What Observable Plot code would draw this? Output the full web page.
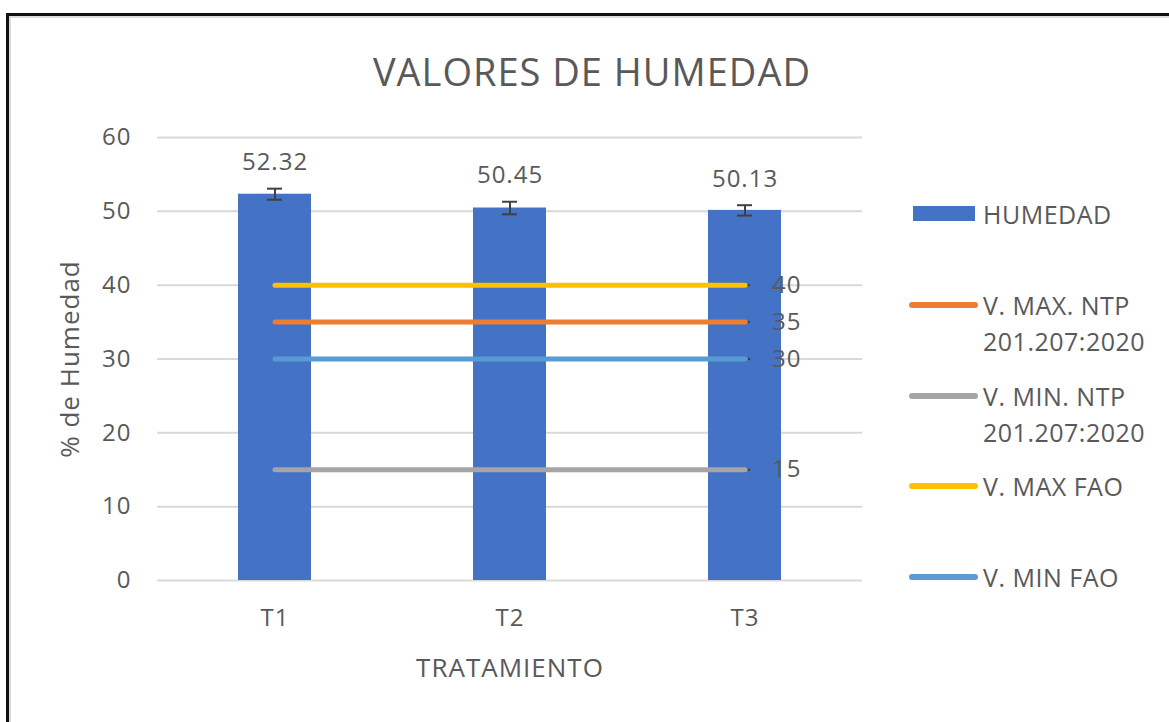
<!DOCTYPE html>
<html>
<head>
<meta charset="utf-8">
<script src="https://cdn.jsdelivr.net/npm/d3@7"></script>
<script src="https://cdn.jsdelivr.net/npm/@observablehq/plot@0.6"></script>
<style>
  html, body { margin: 0; padding: 0; background: #fff; }
  #wrap { position: relative; width: 1169px; height: 722px; overflow: hidden; background: #fff;
          font-family: "Open Sans", "Noto Sans", sans-serif; color: #595959; }
  #frame { position: absolute; left: 6px; top: 13px; width: 1300px; height: 900px;
           border: 3px solid #111; box-shadow: inset 2px 2px 0 #dcdcdc; box-sizing: border-box; }
  #chart { position: absolute; left: 0; top: 0; }
  #title { position: absolute; left: 0; width: 1184px; top: 46px; text-align: center;
           font-size: 38px; letter-spacing: 1px; line-height: 50px; color: #595959; }
  .leg { position: absolute; left: 905px; }
  .leg .sw { position: absolute; }
  .leg .tx { position: absolute; left: 78px; font-size: 25px; letter-spacing: 0.5px; line-height: 36px; width: 190px; white-space: pre-line; }
  #chart svg text { letter-spacing: 1px; }
</style>
</head>
<body>
<div id="wrap">
  <div id="frame"></div>
  <div id="chart"></div>
  <div id="title"></div>
</div>
<script>
// ---- data ----
const categories = ["T1", "T2", "T3"];
const humedad = [52.32, 50.45, 50.13];
const errores = [0.75, 0.85, 0.7];
const refNames = ["V. MAX. NTP\n201.207:2020", "V. MIN. NTP\n201.207:2020", "V. MAX FAO", "V. MIN FAO"];
const refValues = [35, 15, 40, 30];
const refColors = ["#ED7D31", "#A5A5A5", "#FFC000", "#5B9BD5"];
const barColor = "#4472C4";
const barName = "HUMEDAD";
const yTicks = [0, 10, 20, 30, 40, 50, 60];
const titleText = "VALORES DE HUMEDAD";
const xLabel = "TRATAMIENTO";
const yLabel = "% de Humedad";

// ---- tables ----
const bars = categories.map((c, i) => ({cat: c, value: humedad[i], err: errores[i]}));
const refRows = [];
refNames.forEach((n, j) => categories.forEach(c => refRows.push({series: n, cat: c, value: refValues[j]})));
const lastCat = categories[categories.length - 1];
const refEnds = refRows.filter(d => d.cat === lastCat);

const textColor = "#595959";

const plot = Plot.plot({
  width: 1169,
  height: 722,
  marginLeft: 157,
  marginRight: 307,
  marginTop: 137,
  marginBottom: 142,
  style: {fontFamily: '"Open Sans", "Noto Sans", sans-serif', fontSize: "24px", color: textColor, background: "transparent"},
  x: {domain: categories, padding: 0, label: null},
  y: {domain: [0, 60], label: null},
  color: {domain: refNames, range: refColors},
  marks: [
    Plot.ruleY(yTicks, {stroke: "#d9d9d9", strokeWidth: 2}),
    Plot.axisY({ticks: yTicks, tickSize: 0, tickPadding: 26, label: null, fill: textColor, fontSize: 24}),
    Plot.axisX({tickSize: 0, tickPadding: 28, label: null, fill: textColor, fontSize: 24}),
    Plot.barY(bars, {x: "cat", y: "value", fill: barColor, insetLeft: 81, insetRight: 81}),
    Plot.ruleX(bars, {x: "cat", y1: d => d.value - d.err, y2: d => d.value + d.err, stroke: "#404040", strokeWidth: 2}),
    Plot.tickY(bars, {x: "cat", y: d => d.value - d.err, stroke: "#404040", strokeWidth: 2, insetLeft: 110, insetRight: 110}),
    Plot.tickY(bars, {x: "cat", y: d => d.value + d.err, stroke: "#404040", strokeWidth: 2, insetLeft: 110, insetRight: 110}),
    Plot.text(bars, {x: "cat", y: d => d.value + d.err, text: d => d.value.toFixed(2), dy: -26, fill: textColor, fontSize: 24}),
    Plot.line(refRows, {x: "cat", y: "value", z: "series", stroke: "series", strokeWidth: 5, strokeLinecap: "round"}),
    Plot.dot(refEnds, {x: "cat", y: "value", r: 1.2, fill: "#404040", dx: 4}),
    Plot.text(refEnds, {x: "cat", y: "value", text: d => String(d.value), dx: 27, textAnchor: "start", fill: textColor, fontSize: 24}),
    Plot.text([xLabel], {frameAnchor: "bottom", dy: 88, lineAnchor: "middle", textAnchor: "middle", fill: textColor, fontSize: 26}),
    Plot.text([yLabel], {frameAnchor: "left", dx: -87, rotate: -90, lineAnchor: "middle", textAnchor: "middle", fill: textColor, fontSize: 26})
  ]
});
document.getElementById("chart").appendChild(plot);
document.getElementById("title").textContent = titleText;

// ---- legend ----
const wrap = document.getElementById("wrap");
const legItems = [{name: barName, color: barColor, kind: "bar"}]
  .concat(refNames.map((n, j) => ({name: n, color: refColors[j], kind: "line"})));
const legTop = 214, legStep = 90.8;
legItems.forEach((it, i) => {
  const cy = legTop + i * legStep;
  const el = document.createElement("div");
  el.className = "leg";
  el.style.top = (cy) + "px";
  const sw = document.createElement("div");
  sw.className = "sw";
  if (it.kind === "bar") {
    sw.style.cssText = `left:8px;top:-8px;width:62px;height:15px;background:${it.color};`;
  } else {
    sw.style.cssText = `left:4px;top:-3px;width:69px;height:6px;border-radius:3px;background:${it.color};`;
  }
  const tx = document.createElement("div");
  tx.className = "tx";
  tx.style.top = "-18px";
  tx.textContent = it.name;
  el.appendChild(sw);
  el.appendChild(tx);
  wrap.appendChild(el);
});
</script>
</body>
</html>
